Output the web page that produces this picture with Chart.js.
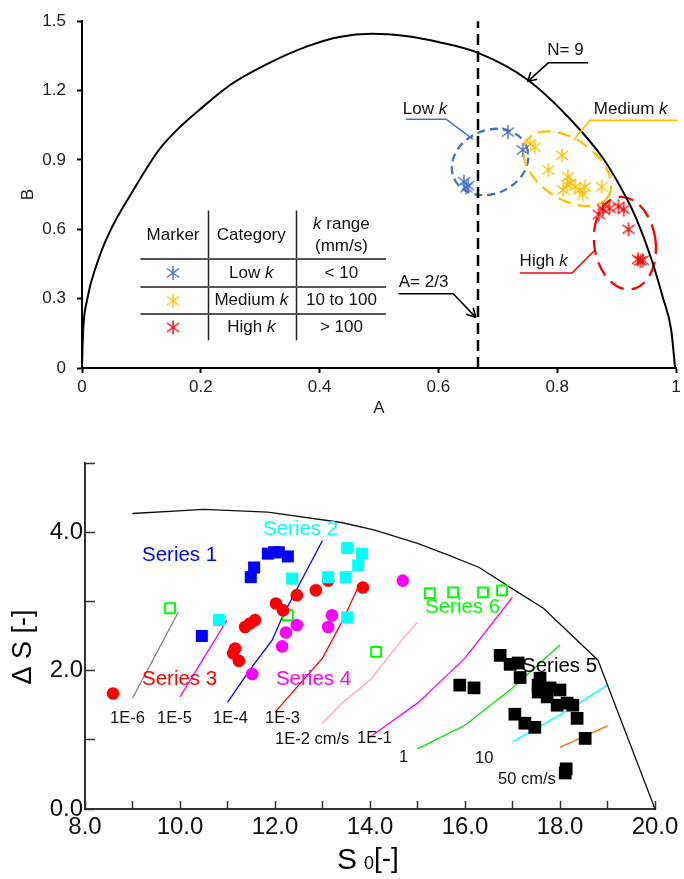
<!DOCTYPE html>
<html>
<head>
<meta charset="utf-8">
<script src="https://cdn.jsdelivr.net/npm/chart.js@4.4.1/dist/chart.umd.min.js"></script>
<style>
  html, body { margin: 0; padding: 0; background: #fff; }
  #wrap { position: relative; width: 684px; height: 879px; }
  canvas { position: absolute; left: 0; }
  #top { top: 0; }
  #bottom { top: 420px; }
</style>
</head>
<body>
<div id="wrap">
  <canvas id="top" width="684" height="420"></canvas>
  <canvas id="bottom" width="684" height="459"></canvas>
</div>
<script>
// ---------- data: upper chart (A-B plane) ----------
const curveA = [0, 0.0017, 0.0083, 0.025, 0.047, 0.085, 0.13, 0.16, 0.197, 0.25, 0.308, 0.38, 0.433, 0.488, 0.545, 0.6, 0.667, 0.75, 0.822, 0.878, 0.917, 0.933, 0.958, 0.978, 0.992, 0.9985];
const curveB = [0, 0.15, 0.291, 0.45, 0.591, 0.763, 0.945, 1.03, 1.115, 1.225, 1.31, 1.392, 1.432, 1.446, 1.436, 1.41, 1.363, 1.247, 1.076, 0.904, 0.733, 0.647, 0.476, 0.304, 0.163, 0.0];
const limitA = [2 / 3, 2 / 3];
const limitB = [0, 1.5];

const lowA = [0.717, 0.742, 0.643, 0.65, 0.647];
const lowB = [1.02, 0.943, 0.806, 0.789, 0.78];
const medA = [0.755, 0.762, 0.808, 0.785, 0.818, 0.817, 0.81, 0.83, 0.847, 0.843, 0.875, 0.838, 0.822];
const medB = [0.97, 0.955, 0.92, 0.857, 0.827, 0.793, 0.77, 0.784, 0.784, 0.75, 0.784, 0.77, 0.8];
const highA = [0.87, 0.877, 0.888, 0.903, 0.912, 0.92, 0.936, 0.94, 0.944];
const highB = [0.664, 0.686, 0.69, 0.699, 0.686, 0.6, 0.47, 0.463, 0.466];

const categories = ['Low', 'Medium', 'High'];
const kRanges = ['< 10', '10 to 100', '> 100'];

// ---------- data: lower chart (S0 - dS) ----------
const envX = [9.0, 10.5, 11.85, 13.4, 14.1, 15.0, 15.65, 16.3, 17.05, 17.65, 18.8, 20.0];
const envY = [4.27, 4.33, 4.29, 4.14, 4.03, 3.84, 3.67, 3.49, 3.16, 2.9, 2.15, 0.0];

const isoNames = ['1E-6', '1E-5', '1E-4', '1E-3', '1E-2', '1E-1', '1', '10', '50'];
const isoX = [
  [9.0, 9.96],
  [10.0, 10.99],
  [11.0, 11.47, 11.94, 12.17, 13.0],
  [12.0, 13.0, 13.43, 13.8],
  [13.0, 13.41, 14.0, 14.67, 15.0],
  [14.0, 15.0, 16.0, 17.0],
  [15.0, 16.0, 17.0, 18.0],
  [17.0, 18.0, 19.0],
  [18.0, 19.0]
];
const isoY = [
  [1.6, 2.84],
  [1.62, 2.73],
  [1.54, 2.01, 2.44, 2.8, 3.88],
  [1.4, 2.18, 2.73, 3.28],
  [1.24, 1.53, 1.86, 2.44, 2.7],
  [1.04, 1.53, 2.18, 3.06],
  [0.87, 1.21, 1.75, 2.37],
  [0.97, 1.36, 1.79],
  [0.89, 1.2]
];

const s1X = [10.46, 11.49, 11.56, 11.85, 11.98, 12.08, 12.27];
const s1Y = [2.5, 3.35, 3.49, 3.69, 3.71, 3.71, 3.65];
const s2X = [10.82, 12.36, 13.12, 13.49, 13.52, 13.75, 13.83, 13.52];
const s2Y = [2.73, 3.33, 3.35, 3.35, 3.77, 3.52, 3.69, 2.77];
const s3X = [8.59, 11.12, 11.16, 11.24, 11.37, 11.47, 11.58, 12.02, 12.17, 12.46, 12.86, 13.12, 13.85];
const s3Y = [1.67, 2.25, 2.32, 2.14, 2.63, 2.68, 2.73, 2.97, 2.87, 3.09, 3.16, 3.3, 3.2];
const s4X = [11.52, 12.15, 12.23, 12.46, 13.12, 13.2, 14.69];
const s4Y = [1.95, 2.35, 2.55, 2.66, 2.63, 2.8, 3.3];
const s5X = [15.89, 16.19, 16.74, 16.95, 17.12, 17.16, 17.05, 17.26, 17.47, 17.58, 17.54, 17.54, 17.73, 17.79, 18.0, 17.94, 18.15, 18.27, 18.36, 18.53, 18.11, 18.13];
const s5Y = [1.79, 1.75, 2.22, 2.09, 2.11, 1.9, 1.37, 1.24, 1.18, 1.89, 1.79, 1.69, 1.62, 1.75, 1.72, 1.5, 1.53, 1.5, 1.31, 1.02, 0.52, 0.58];
const s6X = [9.79, 12.27, 14.13, 15.26, 15.75, 16.38, 16.78];
const s6Y = [2.9, 2.8, 2.27, 3.12, 3.13, 3.13, 3.16];

// ---------- helpers ----------
const FONT = "'Liberation Sans', Arial, sans-serif";
const BLUE = '#4472C4', AMBER = '#FFC000', RED = '#FF0000';
const pts = (xs, ys) => xs.map((x, i) => ({ x, y: ys[i] }));

// six-armed asterisk used as marker
function asterisk(color) {
  const c = document.createElement('canvas');
  c.width = 16; c.height = 16;
  const g = c.getContext('2d');
  g.strokeStyle = color; g.lineWidth = 1.4;
  g.beginPath();
  g.moveTo(8, 1); g.lineTo(8, 15);
  g.moveTo(2, 3.5); g.lineTo(14, 12.5);
  g.moveTo(14, 3.5); g.lineTo(2, 12.5);
  g.stroke();
  return c;
}
const markers = [asterisk(BLUE), asterisk(AMBER), asterisk(RED)];

// text made of [string, style] pieces (for the italic k)
function drawParts(ctx, parts, x, y, size, align) {
  ctx.textBaseline = 'middle';
  ctx.textAlign = 'left';
  let w = 0;
  parts.forEach(([t, st]) => { ctx.font = `${st} ${size}px ${FONT}`; w += ctx.measureText(t).width; });
  let cx = align === 'center' ? x - w / 2 : x;
  parts.forEach(([t, st]) => {
    ctx.font = `${st} ${size}px ${FONT}`;
    ctx.fillText(t, cx, y);
    cx += ctx.measureText(t).width;
  });
}

// ---------- annotations, upper chart ----------
const ellipses = [
  { a: 0.687, b: 0.891, ra: 0.0667, rb: 0.137, rot: -25, color: BLUE, dash: [8, 5] },
  { a: 0.817, b: 0.862, ra: 0.0833, rb: 0.1286, rot: 35, color: AMBER, dash: [13, 7] },
  { a: 0.914, b: 0.54, ra: 0.0517, rb: 0.2014, rot: -8, color: RED, dash: [15, 8] }
];
const leaders = [
  { p: [[0.852, 1.32], [0.785, 1.32], [0.75, 1.239]], color: '#000', arrow: true },
  { p: [[0.533, 0.321], [0.625, 0.321], [0.663, 0.219]], color: '#000', arrow: true },
  { p: [[0.545, 1.076], [0.613, 1.076], [0.658, 0.99]], color: BLUE },
  { p: [[1.003, 1.071], [0.855, 1.071], [0.828, 0.986]], color: AMBER },
  { p: [[0.737, 0.411], [0.825, 0.411], [0.862, 0.506]], color: RED }
];
const notes = [
  { parts: [['N= 9', 'normal']], a: 0.7833, b: 1.374 },
  { parts: [['A= 2/3', 'normal']], a: 0.5333, b: 0.369 },
  { parts: [['Low ', 'normal'], ['k', 'italic']], a: 0.54, b: 1.119 },
  { parts: [['Medium ', 'normal'], ['k', 'italic']], a: 0.8617, b: 1.119 },
  { parts: [['High ', 'normal'], ['k', 'italic']], a: 0.7367, b: 0.463 }
];
// legend table (in A/B units)
const table = {
  cols: [0.0983, 0.2117, 0.36, 0.5117],
  top: 0.681, bottom: 0.12,
  rules: [0.4714, 0.3514, 0.2357],
  headB: 0.574, rowB: [0.4114, 0.2914, 0.1757],
  markerA: 0.1533, catA: 0.285, rangeA: 0.4367
};

const topDecor = {
  id: 'topDecor',
  beforeDatasetsDraw(chart) {
    const { ctx } = chart;
    const X = chart.scales.x, Y = chart.scales.y;
    ellipses.forEach(e => {
      const cx = X.getPixelForValue(e.a), cy = Y.getPixelForValue(e.b);
      const rx = Math.abs(X.getPixelForValue(e.a + e.ra) - cx);
      const ry = Math.abs(Y.getPixelForValue(e.b + e.rb) - cy);
      ctx.save();
      ctx.strokeStyle = e.color; ctx.lineWidth = 2.3; ctx.setLineDash(e.dash);
      ctx.beginPath();
      ctx.ellipse(cx, cy, rx, ry, e.rot * Math.PI / 180, 0, Math.PI * 2);
      ctx.stroke();
      ctx.restore();
    });
  },
  afterDatasetsDraw(chart) {
    const { ctx } = chart;
    const X = chart.scales.x, Y = chart.scales.y;
    const px = a => X.getPixelForValue(a), py = b => Y.getPixelForValue(b);
    ctx.save();
    leaders.forEach(l => {
      ctx.strokeStyle = l.color; ctx.lineWidth = 1.6;
      ctx.beginPath();
      l.p.forEach(([a, b], i) => i ? ctx.lineTo(px(a), py(b)) : ctx.moveTo(px(a), py(b)));
      ctx.stroke();
      if (l.arrow) {
        const [a1, b1] = l.p[l.p.length - 2], [a2, b2] = l.p[l.p.length - 1];
        const x2 = px(a2), y2 = py(b2);
        const ang = Math.atan2(y2 - py(b1), x2 - px(a1));
        ctx.beginPath();
        [-0.5, 0.5].forEach(d => {
          ctx.moveTo(x2, y2);
          ctx.lineTo(x2 - 10 * Math.cos(ang + d), y2 - 10 * Math.sin(ang + d));
        });
        ctx.stroke();
      }
    });
    ctx.fillStyle = '#111';
    notes.forEach(n => drawParts(ctx, n.parts, px(n.a), py(n.b), 17, 'left'));

    // table rules
    ctx.strokeStyle = '#222'; ctx.lineWidth = 1.5;
    ctx.beginPath();
    [table.cols[1], table.cols[2]].forEach(a => {
      ctx.moveTo(Math.round(px(a)) + 0.5, py(table.top));
      ctx.lineTo(Math.round(px(a)) + 0.5, py(table.bottom));
    });
    ctx.stroke();
    ctx.strokeStyle = '#555'; ctx.lineWidth = 2;
    ctx.beginPath();
    table.rules.forEach(b => {
      ctx.moveTo(px(table.cols[0]), Math.round(py(b)));
      ctx.lineTo(px(table.cols[3]), Math.round(py(b)));
    });
    ctx.stroke();
    // table text
    drawParts(ctx, [['Marker', 'normal']], px(table.markerA), py(table.headB), 17, 'center');
    drawParts(ctx, [['Category', 'normal']], px(table.catA), py(table.headB), 17, 'center');
    drawParts(ctx, [['k', 'italic'], [' range', 'normal']], px(table.rangeA), py(table.headB) - 11, 17, 'center');
    drawParts(ctx, [['(mm/s)', 'normal']], px(table.rangeA), py(table.headB) + 11, 17, 'center');
    categories.forEach((c, i) => {
      const y = py(table.rowB[i]);
      const m = markers[i];
      ctx.drawImage(m, px(table.markerA) - m.width / 2, y - m.height / 2);
      drawParts(ctx, [[c + ' ', 'normal'], ['k', 'italic']], px(table.catA), y, 17, 'center');
      drawParts(ctx, [[kRanges[i], 'normal']], px(table.rangeA), y, 17, 'center');
    });
    ctx.restore();
  }
};

new Chart(document.getElementById('top'), {
  type: 'scatter',
  data: {
    datasets: [
      { label: 'Low k', data: pts(lowA, lowB), pointStyle: markers[0], pointRadius: 7 },
      { label: 'Medium k', data: pts(medA, medB), pointStyle: markers[1], pointRadius: 7 },
      { label: 'High k', data: pts(highA, highB), pointStyle: markers[2], pointRadius: 7 },
      { label: 'N= 9', data: pts(curveA, curveB), showLine: true, borderColor: '#000', borderWidth: 2,
        pointRadius: 0, cubicInterpolationMode: 'monotone', clip: false },
      { label: 'A= 2/3', data: pts(limitA, limitB), showLine: true, borderColor: '#000', borderWidth: 2.5,
        borderDash: [11, 6], pointRadius: 0, clip: false }
    ]
  },
  options: {
    responsive: false,
    animation: false,
    layout: { padding: { left: 0, right: 2, top: 18, bottom: 0 } },
    plugins: { legend: { display: false }, tooltip: { enabled: false } },
    scales: {
      x: {
        type: 'linear', min: 0, max: 1,
        ticks: { stepSize: 0.2, padding: 4.5, color: '#222', font: { family: FONT, size: 17 },
                 callback: v => String(Math.round(v * 10) / 10) },
        grid: { drawOnChartArea: false, tickLength: 5, tickWidth: 2, tickColor: '#000' },
        border: { color: '#000', width: 2 },
        title: { display: true, text: 'A', color: '#222', font: { family: FONT, size: 17 }, padding: { top: 0, bottom: 1.8 } },
        afterFit: s => { s.height = 52; s.paddingLeft = 0; s.paddingRight = 0; }
      },
      y: {
        type: 'linear', min: 0, max: 1.5,
        ticks: { stepSize: 0.3, padding: 11, color: '#222', font: { family: FONT, size: 17 },
                 callback: v => String(Math.round(v * 10) / 10) },
        grid: { drawOnChartArea: false, tickLength: 5, tickWidth: 2, tickColor: '#000' },
        border: { color: '#000', width: 2 },
        title: { display: true, text: 'B', color: '#222', font: { family: FONT, size: 17 }, padding: { top: 17.8, bottom: 0 } },
        afterFit: s => { s.width = 82; }
      }
    }
  },
  plugins: [topDecor]
});

// ---------- annotations, lower chart ----------
const seriesNotes = [
  { text: 'Series 1', x: 9.2, y: 3.665, color: '#0000FF' },
  { text: 'Series 2', x: 11.747, y: 4.04, color: '#00FFFF' },
  { text: 'Series 3', x: 9.2, y: 1.876, color: '#FF0000' },
  { text: 'Series 4', x: 12.02, y: 1.876, color: '#FF00FF' },
  { text: 'Series 5', x: 17.2, y: 2.063, color: '#000000' },
  { text: 'Series 6', x: 15.158, y: 2.915, color: '#00FF00' }
];
const isoNotes = [
  { text: '1E-6', x: 8.526, y: 1.313 },
  { text: '1E-5', x: 9.516, y: 1.313 },
  { text: '1E-4', x: 10.695, y: 1.313 },
  { text: '1E-3', x: 11.79, y: 1.313 },
  { text: '1E-2 cm/s', x: 12.0, y: 1.01 },
  { text: '1E-1', x: 13.726, y: 1.025 },
  { text: '1', x: 14.61, y: 0.75 },
  { text: '10', x: 16.21, y: 0.736 },
  { text: '50 cm/s', x: 16.695, y: 0.433 }
];
const isoColors = ['#808080', '#FF00FF', '#0000FF', '#FF0000', '#FFA0C8', '#FF00FF', '#00E600', '#00FFFF', '#FF6600'];

const bottomDecor = {
  id: 'bottomDecor',
  afterDatasetsDraw(chart) {
    const { ctx } = chart;
    const X = chart.scales.x, Y = chart.scales.y;
    ctx.save();
    ctx.textBaseline = 'middle'; ctx.textAlign = 'left';
    ctx.font = `20.5px ${FONT}`;
    seriesNotes.forEach(n => { ctx.fillStyle = n.color; ctx.fillText(n.text, X.getPixelForValue(n.x), Y.getPixelForValue(n.y)); });
    ctx.font = `16.5px ${FONT}`;
    ctx.fillStyle = '#111';
    isoNotes.forEach(n => ctx.fillText(n.text, X.getPixelForValue(n.x), Y.getPixelForValue(n.y)));

    // axis titles
    ctx.fillStyle = '#000';
    ctx.save();
    ctx.translate(24, chart.chartArea.top + 184);
    ctx.rotate(-Math.PI / 2);
    ctx.textAlign = 'center';
    ctx.font = `27px ${FONT}`;
    ctx.fillText('\u0394 S [-]', 0, 0);
    ctx.restore();
    ctx.textBaseline = 'alphabetic';
    const base = chart.height - 10;
    ctx.font = `30px ${FONT}`;
    ctx.fillText('S', 337, base);
    ctx.font = `18px ${FONT}`;
    ctx.fillText('0', 364, base);
    ctx.font = `28px ${FONT}`;
    ctx.fillText('[-]', 374, base - 2);
    ctx.restore();
  }
};

const scatterSet = (label, xs, ys, style, color, filled, r) => ({
  label, data: pts(xs, ys), pointStyle: style, pointRadius: r,
  backgroundColor: filled ? color : 'rgba(0,0,0,0)', borderColor: color,
  borderWidth: filled ? 0 : 2, order: 1
});

new Chart(document.getElementById('bottom'), {
  type: 'scatter',
  data: {
    datasets: [
      scatterSet('Series 1', s1X, s1Y, 'rect', '#0000FF', true, 8.5),
      scatterSet('Series 2', s2X, s2Y, 'rect', '#00FFFF', true, 8.5),
      scatterSet('Series 3', s3X, s3Y, 'circle', '#FF0000', true, 6.3),
      scatterSet('Series 4', s4X, s4Y, 'circle', '#FF00FF', true, 6.3),
      scatterSet('Series 5', s5X, s5Y, 'rect', '#000000', true, 9),
      scatterSet('Series 6', s6X, s6Y, 'rect', '#00FF00', false, 7),
      { label: 'envelope', data: pts(envX, envY), showLine: true, borderColor: '#111', borderWidth: 1.3,
        pointRadius: 0, order: 5, clip: false },
      ...isoNames.map((n, i) => ({
        label: n, data: pts(isoX[i], isoY[i]), showLine: true, borderColor: isoColors[i],
        borderWidth: 1.3, pointRadius: 0, order: 6
      }))
    ]
  },
  options: {
    responsive: false,
    animation: false,
    layout: { padding: { left: 0, right: 29, top: 43, bottom: 0 } },
    plugins: { legend: { display: false }, tooltip: { enabled: false } },
    scales: {
      x: {
        type: 'linear', min: 8, max: 20,
        ticks: { stepSize: 1, autoSkip: false, maxRotation: 0, padding: 12, color: '#111',
                 font: { family: FONT, size: 24 },
                 callback: v => (v % 2 === 0 ? v.toFixed(1) : '') },
        grid: { drawOnChartArea: false, tickLength: -8, tickWidth: 1.5, tickColor: '#333' },
        border: { color: '#333', width: 2 },
        afterFit: s => { s.height = 70; s.paddingLeft = 0; s.paddingRight = 0; }
      },
      y: {
        type: 'linear', min: 0, max: 5,
        ticks: { stepSize: 1, padding: 12, color: '#111', font: { family: FONT, size: 24 },
                 callback: v => (v % 2 === 0 ? v.toFixed(1) : '') },
        grid: { drawOnChartArea: false, tickLength: -10, tickWidth: 1.5, tickColor: '#333' },
        border: { color: '#333', width: 2 },
        afterFit: s => { s.width = 85; }
      }
    }
  },
  plugins: [bottomDecor]
});
</script>
</body>
</html>
